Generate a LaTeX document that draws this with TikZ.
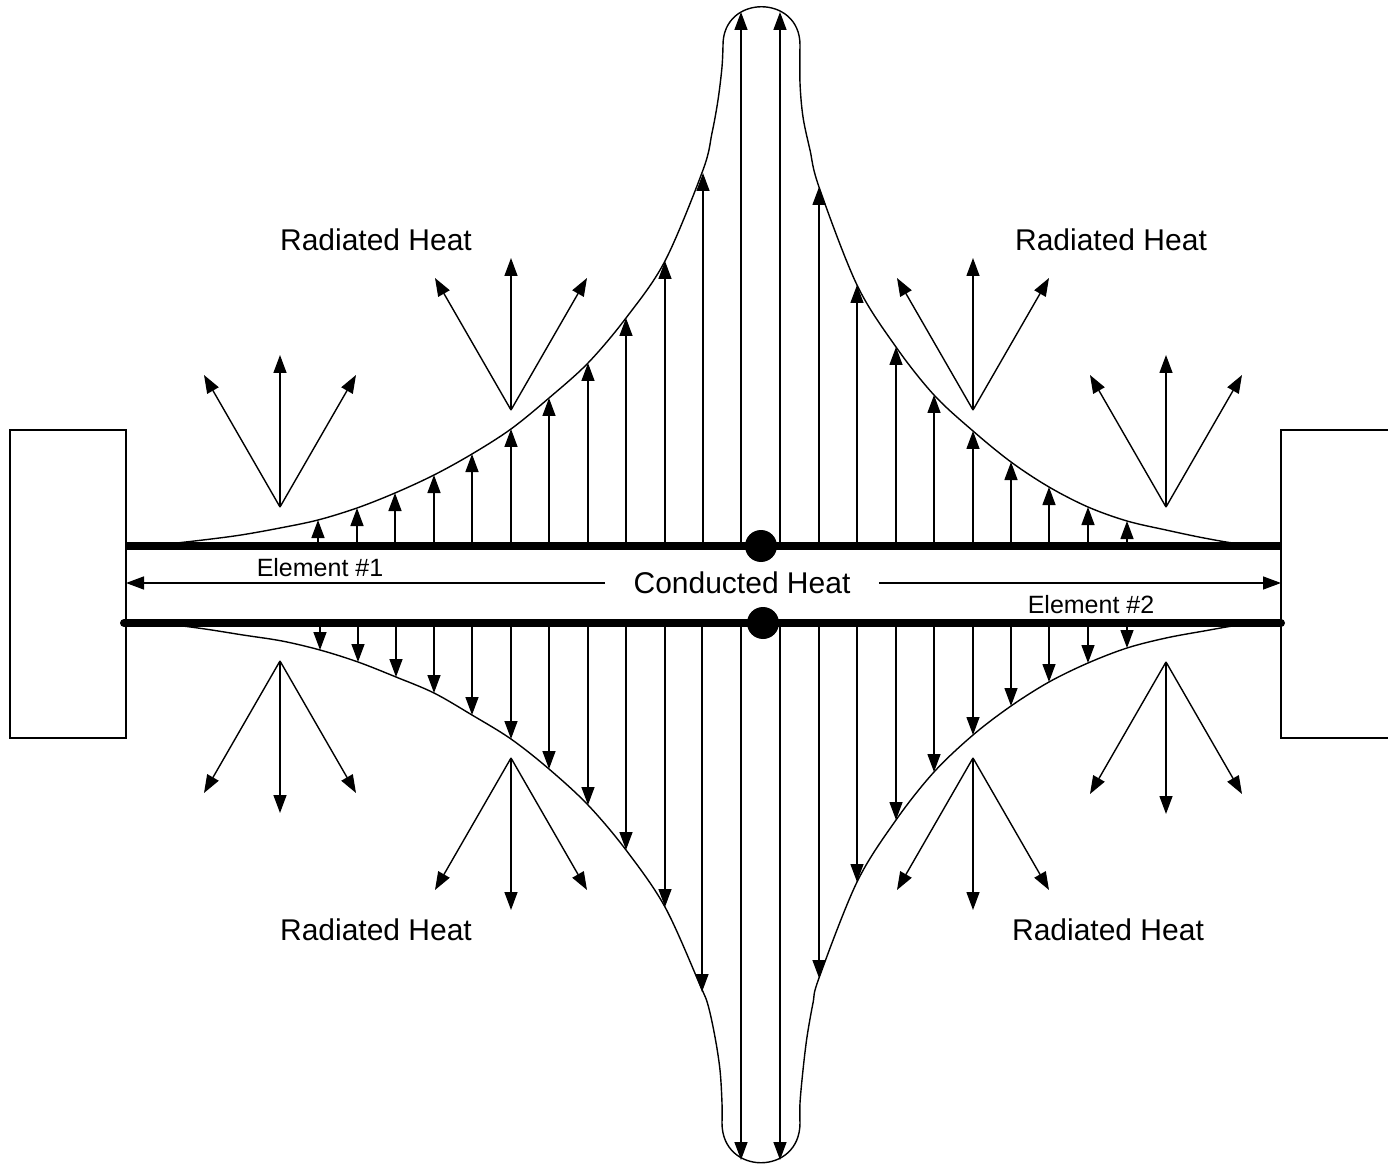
\documentclass[tikz,border=0pt]{standalone}
\usepackage{fontspec}
\setmainfont{Liberation Sans}
\usetikzlibrary{arrows.meta}

\begin{document}
\begin{tikzpicture}[x=0.5pt, y=-0.5pt,
	heatarrow/.style={line width=0.7pt, -{Triangle[length=9pt, width=6.5pt]}},
	hull/.style={line width=0.7pt},
	bar/.style={line width=4pt},
	radlabel/.style={font=\fontsize{15}{18}\selectfont, inner sep=0pt},
	elemlabel/.style={font=\fontsize{12.5}{15}\selectfont, inner sep=0pt}]
	\useasboundingbox (0,0) rectangle (1388,1166);
	% Halterungen links und rechts
	\draw[hull] (10,430) rectangle (126,738);
	\draw[hull] (1388,430) -- (1281,430) -- (1281,738) -- (1388,738);
	% Temperaturprofil oben
	\draw[hull] plot[smooth, tension=0.55] coordinates {(150,546) (203,540)
	(241,535) (280,528) (318,520) (357,508) (395,493) (434,475) (472,454)
	(511,429) (549,398) (588,363) (626,318) (665,261) (703,170) (712,133)
	(718,100) (722,67) (723,45)}
	.. controls (723,-6) and (800,-6) .. (800,45)
	-- plot[smooth, tension=0.55] coordinates {(800,45) (800,83) (803,117)
	(810,150) (819,187) (857,285) (896,347) (934,395) (973,431) (1011,462)
	(1049,487) (1088,507) (1127,521) (1166,530) (1204,538) (1240,544)
	(1275,546)};
	% Temperaturprofil unten
	\draw[hull] plot[smooth, tension=0.55] coordinates {(160,623) (205,629)
	(243,635) (282,641) (320,650) (358,662) (396,677) (434,693) (472,715)
	(511,739) (549,769) (588,805) (626,850) (665,907) (700,985) (708,1005)
	(715,1037) (720,1070) (722,1103) (722,1123)}
	.. controls (722,1176) and (800,1176) .. (800,1123)
	-- plot[smooth, tension=0.55] coordinates {(800,1123) (800,1103)
	(803,1070) (807,1037) (813,1003) (819,978) (857,882) (896,820) (934,772)
	(973,735) (1011,706) (1049,682) (1088,663) (1127,648) (1166,638)
	(1204,631) (1240,625) (1275,623)};
	% Pfeile zum Profil
	\foreach \x/\y in {318/520, 357/508, 395/493, 434/475, 472/454, 511/429,
		549/398, 588/363, 626/318, 665/261, 703/173, 741/12, 780/12, 819/187,
		857/285, 896/347, 934/395, 973/431, 1011/462, 1049/487, 1088/507,
		1127/521}
		\draw[heatarrow] (\x,546) -- (\x,\y);
	\foreach \x/\y in {320/650, 358/662, 396/677, 434/693, 472/715, 511/739,
		549/769, 588/805, 626/850, 665/907, 702/992, 741/1160, 780/1160,
		819/978, 857/882, 896/820, 934/772, 973/735, 1011/706, 1049/682,
		1088/663, 1127/648}
		\draw[heatarrow] (\x,623) -- (\x,\y);
	% Abstrahlung
	\foreach \ax/\ay in {280/507, 511/410, 973/410, 1166/507} {
		\draw[heatarrow] (\ax,\ay) -- ++(-76,-132);
		\draw[heatarrow] (\ax,\ay) -- ++(0,-152);
		\draw[heatarrow] (\ax,\ay) -- ++(76,-132);
	}
	\foreach \ax/\ay in {280/661, 511/758, 973/758, 1166/662} {
		\draw[heatarrow] (\ax,\ay) -- ++(-76,132);
		\draw[heatarrow] (\ax,\ay) -- ++(0,152);
		\draw[heatarrow] (\ax,\ay) -- ++(76,132);
	}
	% Elemente
	\draw[bar] (126,546) -- (1281,546);
	\draw[bar, line cap=round] (124,623) -- (1281,623);
	\fill (761,546) circle[radius=16];
	\fill (763,623) circle[radius=16];
	% Beschriftung
	\node[radlabel] (radul) at (376,240) {Radiated Heat};
	\node[radlabel] (radur) at (1111,240) {Radiated Heat};
	\node[radlabel] (radll) at (376,930) {Radiated Heat};
	\node[radlabel] (radlr) at (1108,930) {Radiated Heat};
	\node[elemlabel] (elemone) at (320,568) {Element \#1};
	\node[elemlabel] (elemtwo) at (1091,605) {Element \#2};
	% Waermeleitung
	\node[radlabel, inner xsep=14pt] (cond) at (742,583) {Conducted Heat};
	\coordinate (lwall) at (126,583);
	\coordinate (rwall) at (1281,583);
	\draw[heatarrow] (cond.west) -- (lwall);
	\draw[heatarrow] (cond.east) -- (rwall);
\end{tikzpicture}
\end{document}
